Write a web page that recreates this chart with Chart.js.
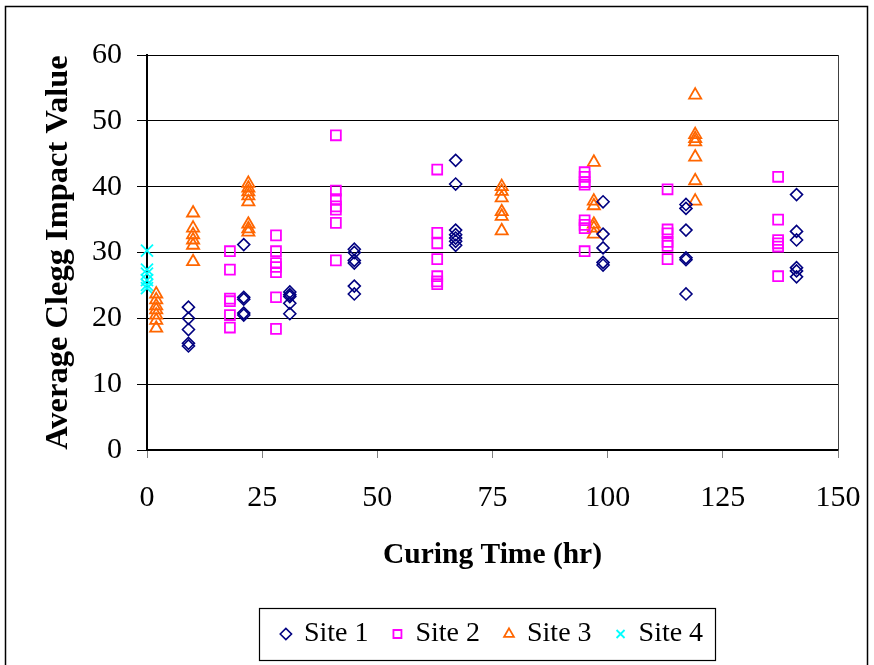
<!DOCTYPE html>
<html>
<head>
<meta charset="utf-8">
<script src="https://cdn.jsdelivr.net/npm/chart.js@4/dist/chart.umd.min.js"></script>
<style>
html, body { margin: 0; padding: 0; background: #ffffff; overflow: hidden; }
#wrap { position: relative; width: 874px; height: 665px; }
</style>
</head>
<body>
<div id="wrap"><canvas id="cleggChart" width="874" height="665"></canvas></div>
<script>

/* data */

const siteNames = ['Site 1', 'Site 2', 'Site 3', 'Site 4'];

const xTicks = [0, 25, 50, 75, 100, 125, 150];
const yTicks = [0, 10, 20, 30, 40, 50, 60];

const site1Times = [9, 21, 31, 45, 67, 99, 117, 141];
const site1Values = [
[21.7, 20.0, 18.3, 16.2, 15.8],
[31.2, 23.2, 22.9, 20.8, 20.5],
[24.0, 23.6, 23.3, 22.3, 20.7],
[30.5, 30.0, 28.8, 28.4, 24.9, 23.7],
[44.0, 40.4, 33.4, 32.7, 32.2, 31.7, 31.1],
[37.7, 32.8, 30.7, 28.5, 28.1],
[37.3, 36.7, 33.4, 29.2, 28.9, 23.7],
[38.8, 33.2, 31.9, 27.7, 27.2, 26.3]
];

const site2Times = [18, 28, 41, 63, 95, 113, 137];
const site2Values = [
[30.2, 27.4, 23.0, 22.6, 20.5, 18.6],
[32.6, 30.2, 28.4, 27.8, 27.0, 23.2, 18.4],
[47.8, 39.4, 38.1, 37.0, 36.5, 34.5, 28.8],
[42.6, 33.0, 31.4, 29.0, 26.4, 25.6, 25.2],
[42.2, 41.5, 40.7, 40.3, 34.9, 34.2, 33.7, 30.2],
[39.6, 33.5, 32.9, 31.6, 31.0, 29.0],
[41.5, 35.0, 31.9, 31.4, 30.9, 26.4]
];

const site3Times = [2, 10, 22, 77, 97, 119];
const site3Values = [
[23.7, 22.8, 21.9, 21.3, 20.5, 19.7, 18.5],
[36.0, 33.7, 32.7, 31.9, 31.1, 28.6],
[40.5, 39.8, 39.2, 38.6, 37.7, 34.3, 33.6, 33.1],
[40.0, 39.3, 38.3, 36.2, 35.5, 33.3],
[43.7, 37.8, 37.1, 34.3, 33.7, 32.8],
[53.9, 47.9, 47.3, 46.8, 44.5, 40.9, 37.8]
];

const site4Times = [0];
const site4Values = [
[30.3, 27.4, 26.8, 25.8, 25.1, 24.6]
];

function toPoints(times, values){
let pts = [];
times.forEach((t, i) => {
values[i].forEach(v => pts.push({x: t, y: v}));
});
return pts;
}

/* outer frame, plot right edge, legend box */

const framePlugin = {
id: 'frame',
beforeDraw(chart){
const c = chart.ctx;
c.save();
c.fillStyle = '#ffffff';
c.fillRect(0, 0, chart.width, chart.height);
c.strokeStyle = '#000000';
c.lineWidth = 1.5;
c.strokeRect(5.5, 6.5, 862, 700);
c.restore();
},
afterDraw(chart){
const c = chart.ctx;
const a = chart.chartArea;
c.save();
c.strokeStyle = '#404040';
c.lineWidth = 1;
c.beginPath();
c.moveTo(Math.round(a.right) + 0.5, a.top);
c.lineTo(Math.round(a.right) + 0.5, a.bottom);
c.stroke();

const lg = chart.legend;
const hb = lg.legendHitBoxes;
if (hb && hb.length) {
const last = hb[hb.length - 1];
const left = hb[0].left - 23;
const right = last.left + last.width + 12;
const mid = hb[0].top + hb[0].height / 2;
c.strokeStyle = '#000000';
c.lineWidth = 1.2;
c.strokeRect(Math.round(left) + 0.5, Math.round(mid - 26) + 0.5, Math.round(right - left), 52);
}
c.restore();
}
};

const serif = "'Liberation Serif', 'Times New Roman', serif";

new Chart(document.getElementById('cleggChart'), {

type: 'scatter',

data: {

datasets: [
{
label: siteNames[0],
data: toPoints(site1Times, site1Values),
pointStyle: 'rectRot',
pointRadius: 6,
borderColor: '#000080',
backgroundColor: 'rgba(0,0,0,0)',
borderWidth: 1.6,
clip: false
},
{
label: siteNames[1],
data: toPoints(site2Times, site2Values),
pointStyle: 'rect',
pointRadius: 7,
borderColor: '#ff00ff',
backgroundColor: 'rgba(0,0,0,0)',
borderWidth: 1.8,
clip: false
},
{
label: siteNames[2],
data: toPoints(site3Times, site3Values),
pointStyle: 'triangle',
pointRadius: 7,
borderColor: '#ff6600',
backgroundColor: 'rgba(0,0,0,0)',
borderWidth: 1.8,
clip: false
},
{
label: siteNames[3],
data: toPoints(site4Times, site4Values),
pointStyle: 'crossRot',
pointRadius: 8.5,
borderColor: '#00ffff',
backgroundColor: 'rgba(0,0,0,0)',
borderWidth: 1.8,
clip: false
}
]
},

options: {

responsive: false,
animation: false,
events: [],

layout: {
padding: { left: 0, right: 36, top: 55, bottom: 7 }
},

plugins: {
tooltip: { enabled: false },
legend: {
position: 'bottom',
fullSize: false,
labels: {
usePointStyle: true,
boxWidth: 8,
boxHeight: 8,
padding: 25,
color: '#000000',
font: { family: serif, size: 28 }
}
}
},

scales: {

x: {
type: 'linear',
min: 0,
max: 150,
afterBuildTicks(scale){
scale.ticks = xTicks.map(v => ({value: v}));
},
afterFit(scale){
scale.height = 145;
scale.paddingLeft = 0;
scale.paddingRight = 23;
},
grid: {
drawOnChartArea: false,
drawTicks: true,
tickLength: 8,
color: '#808080'
},
border: { color: '#000000', width: 1.5 },
ticks: {
color: '#000000',
padding: 22,
maxRotation: 0,
font: { family: serif, size: 30 }
},
title: {
display: true,
text: 'Curing Time (hr)',
color: '#000000',
padding: { top: 0, bottom: 22 },
font: { family: serif, size: 29.5, weight: 'bold' }
}
},

y: {
type: 'linear',
min: 0,
max: 60,
afterBuildTicks(scale){
scale.ticks = yTicks.map(v => ({value: v}));
},
afterFit(scale){
scale.width = 147;
},
grid: {
color: '#000000',
lineWidth: 1,
tickLength: 10
},
border: { color: '#000000', width: 2 },
ticks: {
color: '#000000',
padding: 15,
font: { family: serif, size: 30 }
},
title: {
display: true,
text: 'Average Clegg Impact Value',
color: '#000000',
padding: { top: 39, bottom: 0 },
font: { family: serif, size: 32.5, weight: 'bold' }
}
}
}
},

plugins: [framePlugin]
});

</script>
</body>
</html>
